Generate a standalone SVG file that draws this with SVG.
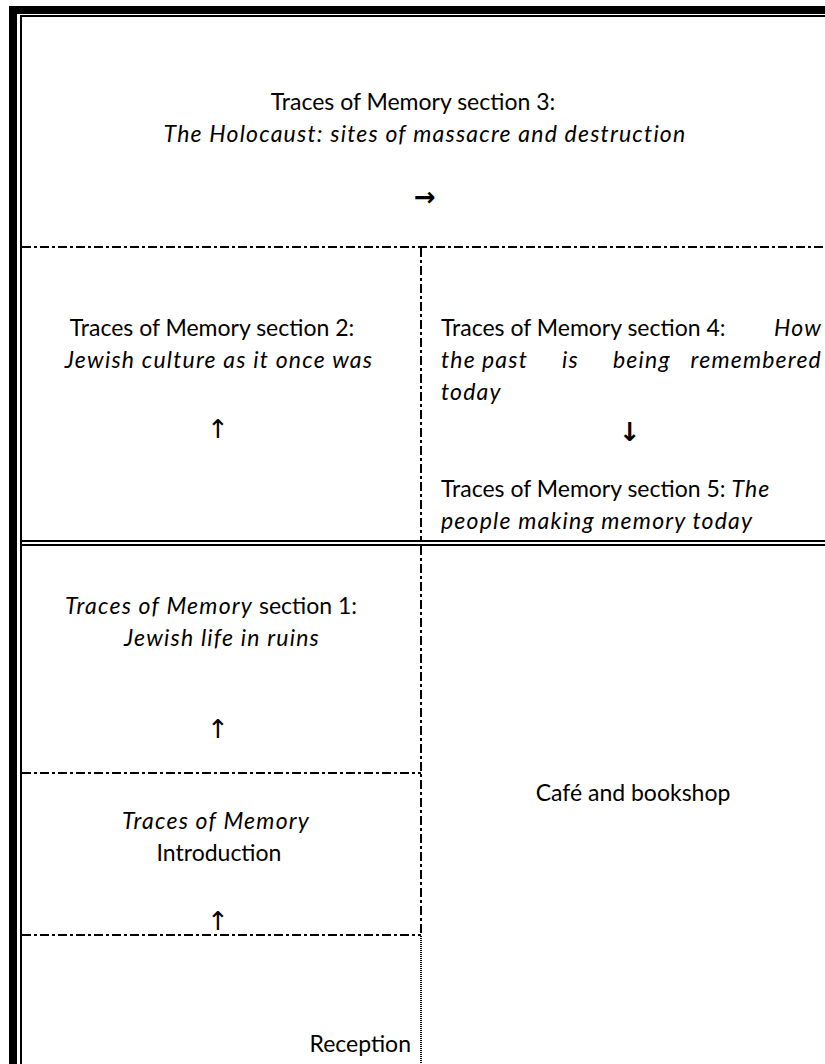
<svg xmlns="http://www.w3.org/2000/svg" width="825" height="1064" viewBox="0 0 825 1064">
<style>
.t{font-family:Lato,"Open Sans","Liberation Sans",sans-serif;font-size:23px;fill:#000}
.i{font-style:italic;letter-spacing:1.2px}
.c{text-anchor:middle}
.dd{stroke:#000;stroke-width:2;fill:none;stroke-dasharray:9 3 3 3}
.dot{stroke:#000;stroke-width:2;fill:none;stroke-dasharray:1 1}
.ar{font-family:"DejaVu Sans",sans-serif;fill:#000;text-anchor:middle}
</style>
<rect width="825" height="1064" fill="#fff"/>
<g id="walls">
<rect x="9" y="6" width="816" height="8" fill="#000"/>
<rect x="9" y="6" width="8" height="1058" fill="#000"/>
<line x1="20" y1="16" x2="825" y2="16" stroke="#000" stroke-width="2"/>
<line x1="21" y1="15" x2="21" y2="1064" stroke="#000" stroke-width="2"/>
<line x1="22" y1="541" x2="825" y2="541" stroke="#000" stroke-width="2"/>
<line x1="22" y1="545" x2="825" y2="545" stroke="#000" stroke-width="2"/>
</g>
<g id="connectors">
<line class="dd" x1="22" y1="247" x2="825" y2="247"/>
<line class="dd" x1="421" y1="248" x2="421" y2="540"/>
<line class="dd" x1="421" y1="546" x2="421" y2="935"/>
<line class="dot" x1="421" y1="936" x2="421" y2="1064"/>
<line class="dd" x1="22" y1="773" x2="421" y2="773"/>
<line class="dd" x1="22" y1="935" x2="421" y2="935"/>
</g>
<g id="section3">
<text class="t c" x="413" y="110">Traces of Memory section 3:</text>
<text class="t c i" x="425" y="142">The Holocaust: sites of massacre and destruction</text>
<text class="ar" x="425" y="206" font-size="26" font-weight="bold">→</text>
</g>
<g id="section2">
<text class="t c" x="212" y="336">Traces of Memory section 2:</text>
<text class="t c i" x="219" y="368">Jewish culture as it once was</text>
<text class="ar" x="218" y="438" font-size="26">↑</text>
</g>
<g id="section4">
<text class="t" x="441" y="336">Traces of Memory section 4: </text>
<text class="t i" x="822" y="336" text-anchor="end">How</text>
<text class="t i" x="441" y="368">the</text>
<text class="t i" x="482" y="368">past</text>
<text class="t i" x="562" y="368">is</text>
<text class="t i" x="613" y="368">being</text>
<text class="t i" x="822" y="368" text-anchor="end">remembered</text>
<text class="t i" x="441" y="400">today</text>
<text class="ar" x="630" y="441" font-size="26" font-weight="bold">↓</text>
</g>
<g id="section5">
<text class="t" x="441" y="497">Traces of Memory section 5: <tspan class="i">The</tspan></text>
<text class="t i" x="441" y="529">people making memory today</text>
</g>
<g id="section1">
<text class="t c" x="211" y="614"><tspan class="i">Traces of Memory</tspan> section 1:</text>
<text class="t c i" x="222" y="646">Jewish life in ruins</text>
<text class="ar" x="218" y="738" font-size="26">↑</text>
</g>
<g id="intro">
<text class="t c i" x="216" y="829">Traces of Memory</text>
<text class="t c" x="219" y="861">Introduction</text>
<text class="ar" x="218" y="930" font-size="26">↑</text>
</g>
<g id="reception">
<text class="t" x="411" y="1052" text-anchor="end">Reception</text>
</g>
<g id="cafe">
<text class="t c" x="633" y="801">Café and bookshop</text>
</g>
</svg>
